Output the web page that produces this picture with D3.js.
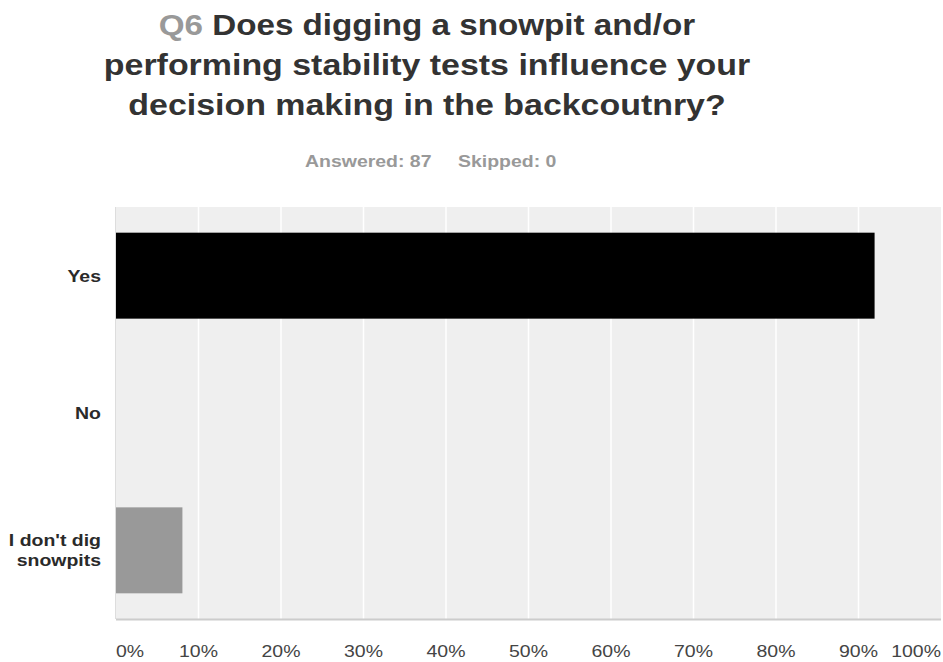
<!DOCTYPE html>
<html>
<head>
<meta charset="utf-8">
<script src="https://cdn.jsdelivr.net/npm/d3@7"></script>
<style>
  body { margin: 0; background: #fff; }
  svg { display: block; font-family: "Liberation Sans", Arial, sans-serif; }
</style>
</head>
<body>
<svg id="chart" width="943" height="662"></svg>
<script>
// survey answers, percent of respondents (87 answered)
const categories = ["Yes", "No", "I don't dig snowpits"];
const percents = [91.95, 0, 8.05];
const barColors = ["#000000", "#000000", "#999999"];
const tickValues = [0, 10, 20, 30, 40, 50, 60, 70, 80, 90, 100];
const titleLines = ["Does digging a snowpit and/or", "performing stability tests influence your", "decision making in the backcoutnry?"];

const svg = d3.select("#chart");
const margin = { left: 116, right: 2, top: 207, bottom: 43 };
const W = 943, H = 662;
const sx = 1.18; // the reference text is a bit wide, stretch it

const x = d3.scaleLinear().domain([0, 100]).range([margin.left, W - margin.right]);
const y = d3.scaleBand().domain(categories).range([margin.top, H - margin.bottom])
  .paddingInner(0.374).paddingOuter(0.187);

// helper: text placed at (px, py) and stretched horizontally
function stretchedText(px, py, k = sx) {
  return svg.append("text")
    .attr("transform", `translate(${px},${py}) scale(${k},1)`);
}

// title (first line is a little tighter in the original)
titleLines.forEach((line, i) => {
  const t = stretchedText(427, 35 + i * 40, i === 0 ? 1.145 : 1.17)
    .attr("text-anchor", "middle")
    .style("font-size", "29px")
    .style("font-weight", "bold")
    .style("fill", "#333");
  if (i === 0) {
    t.append("tspan").style("fill", "#999").text("Q6 ");
  }
  t.append("tspan").text(line);
});

stretchedText(305, 167)
  .style("font-size", "16.5px").style("font-weight", "bold").style("fill", "#999")
  .text("Answered: 87");
stretchedText(458, 167)
  .style("font-size", "16.5px").style("font-weight", "bold").style("fill", "#999")
  .text("Skipped: 0");

// plot background
svg.append("rect")
  .attr("x", x(0)).attr("y", margin.top)
  .attr("width", x(100) - x(0)).attr("height", H - margin.bottom - margin.top)
  .style("fill", "#efefef");

svg.selectAll(".grid")
  .data(tickValues.slice(1, -1))
  .enter().append("line")
  .attr("x1", d => x(d)).attr("x2", d => x(d))
  .attr("y1", margin.top).attr("y2", H - margin.bottom)
  .style("stroke", "#fff")
  .style("stroke-width", 1.5);

svg.append("line")
  .attr("x1", x(0) - 0.5).attr("x2", x(0) - 0.5)
  .attr("y1", margin.top).attr("y2", H - margin.bottom)
  .style("stroke", "#ddd");

svg.append("line")
  .attr("x1", x(0)).attr("x2", x(100))
  .attr("y1", H - margin.bottom + 0.5).attr("y2", H - margin.bottom + 0.5)
  .style("stroke", "#ccc")
  .style("stroke-width", 2);

// bars
svg.selectAll(".bar")
  .data(categories)
  .enter().append("rect")
  .attr("x", x(0))
  .attr("y", d => y(d))
  .attr("width", (d, i) => x(percents[i]) - x(0))
  .attr("height", y.bandwidth())
  .style("fill", (d, i) => barColors[i]);

// category labels
const catLabels = { "I don't dig snowpits": ["I don't dig", "snowpits"] };
categories.forEach(d => {
  const lines = catLabels[d] || [d];
  const cy = y(d) + y.bandwidth() / 2;
  lines.forEach((l, i) => {
    stretchedText(101, cy + 6 + (i - (lines.length - 1) / 2) * 20)
      .attr("text-anchor", "end")
      .style("font-size", "16.5px")
      .style("font-weight", "bold")
      .style("fill", "#2a2a2a")
      .text(l);
  });
});

// x tick labels
tickValues.forEach((d, i) => {
  stretchedText(x(d), 657)
    .attr("text-anchor", i === 0 ? "start" : i === tickValues.length - 1 ? "end" : "middle")
    .style("font-size", "16.5px")
    .style("fill", "#444")
    .text(d + "%");
});
</script>
</body>
</html>
